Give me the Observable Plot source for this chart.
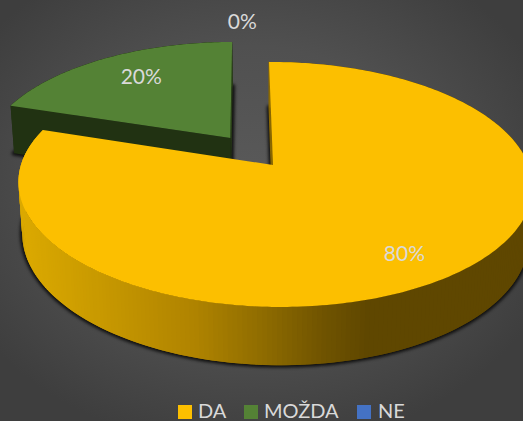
<!DOCTYPE html>
<html><head><meta charset="utf-8">
<style>
html,body{margin:0;padding:0;width:523px;height:421px;overflow:hidden;
 background:radial-gradient(ellipse 62% 62% at 48% 45%,#5a5a5a 0%,#505050 55%,#3e3e3e 100%);}
#legend{position:relative;height:26px;width:523px;font:20px Lato,sans-serif;color:#d9d9d9;}
#legend span{position:absolute;top:2px;line-height:26px;white-space:nowrap}
#legend i{position:absolute;top:10px;width:14px;height:14px;display:block}
svg{display:block}
</style>
<script src="https://cdn.jsdelivr.net/npm/d3@7"></script>
<script src="https://cdn.jsdelivr.net/npm/@observablehq/plot@0.6"></script>
</head><body><div id="chart"></div><div id="legend"></div>
<script>
const categories = ["DA","MOŽDA","NE"];
const shares = [80,20,0];
const colors = ["#fcbf00","#548235","#4472c4"];
const labels = ["80%","20%","0%"];

// perspective of the disc
const cx=273, cy=165, R=253.8, S=119.4, K=0.159, J=-0.007, A=-4.6, D=52, M=0.015;
const W=523, H=395;
function proj(X,Y,d=0){const w=1+K*Y+J*X+M*d;return [cx+(R*X+A*Y)/w, cy-(S*Y-D*d)/w];}
const TAU=Math.PI*2;
const total=d3.sum(shares);
let acc=0;
const slices=shares.map((v,i)=>{const a0=acc/total*TAU;acc+=v;const a1=acc/total*TAU;return {i,a0,a1,v};});
// exploded offset in disc units
const explode=[0,0.29,0];
function arcPts(s){const n=Math.max(2,Math.ceil((s.a1-s.a0)*60));const m=(s.a0+s.a1)/2,e=explode[s.i];
  const ox=e*Math.sin(m),oy=e*Math.cos(m);
  return d3.range(n+1).map(k=>{const t=s.a0+(s.a1-s.a0)*k/n;return {X:ox+Math.sin(t),Y:oy+Math.cos(t),ox,oy};});}
function fan(s,d){return arcPts(s).map(p=>{const [x1,y1]=proj(p.X,p.Y,d),[x2,y2]=proj(p.ox,p.oy,d);return {x1,y1,x2,y2};});}
const wallRamp=d3.scaleLinear().domain([20,100,200,270,330,375]).range(["#dcaa00","#c99a00","#b08400","#8f6c00","#705400","#5f4700"]).clamp(true);
// wall pieces, each drawn over the next one's start so no seams show; drawn from the end back
function wall(s){const pts=arcPts(s);const out=[];
  for(let k=pts.length-2;k>=0;k--){const end=Math.min(pts.length-1,k+2);
    for(const p of [pts[k],pts[end]]){const [x1,y1]=proj(p.X,p.Y,0),[x2,y2]=proj(p.X,p.Y,1);
    const mid=proj(pts[k].X,pts[k].Y,0)[0];out.push({x1,y1,x2,y2,seg:k,c:s.i==0?wallRamp(mid):"#213212"});}}
  return out;}
function cut(s,t){const e=explode[s.i],m=(s.a0+s.a1)/2,ox=e*Math.sin(m),oy=e*Math.cos(m);
  const a=[ox,oy],b=[ox+Math.sin(t),oy+Math.cos(t)];
  return [a,b].map(([X,Y])=>{const [x1,y1]=proj(X,Y,0),[x2,y2]=proj(X,Y,1);return {x1,y1,x2,y2};});}
const yellow=slices[0],green=slices[1];
const area=(data,opt)=>Plot.area(data,{x1:"x1",y1:"y1",x2:"x2",y2:"y2",curve:"linear",...opt});
// label positions in disc coordinates
const labelDisc=[[0.448,-0.66],[-0.578,0.8456],[-0.125,1.479]];
const labelRows=labels.map((t,i)=>{const [x,y]=proj(...labelDisc[i]);return {t,x,y};});
const shadow={fill:"#0c0c0c",stroke:"#0c0c0c",strokeWidth:5,imageFilter:"blur(1.6px)",fillOpacity:0.95,strokeOpacity:0.85};
const chart=Plot.plot({width:W,height:H,margin:0,
  x:{domain:[0,W],range:[0,W],axis:null},y:{domain:[0,H],range:[0,H],axis:null},
  style:{background:"transparent",overflow:"hidden"},
  marks:[
    area(fan(green,1),shadow),
    area(fan(yellow,1),shadow),
    area(wall(green),{fill:"c",z:"seg"}),
    area(cut(green,green.a1),{fill:"#2a3f18"}),
    area(cut(green,green.a0),{fill:"#213212"}),
    area(fan(green,0),{fill:colors[1]}),
    area(cut(yellow,yellow.a0),{fill:"#8a6700",stroke:"#8a6700",strokeWidth:1.2}),
    area(wall(yellow),{fill:"c",z:"seg"}),
    area(fan(yellow,0),{fill:colors[0]}),
    Plot.text(labelRows,{x:"x",y:"y",text:"t",fill:"#d9d9d9",fontSize:21,fontFamily:"Lato"})
  ]});
document.getElementById("chart").append(chart);
const lg=document.getElementById("legend");
const lx=[[178,198],[244,264],[357,378]];
categories.forEach((c,i)=>{
  const sw=document.createElement("i");sw.style.left=lx[i][0]+"px";sw.style.background=colors[i];lg.append(sw);
  const t=document.createElement("span");t.textContent=c;t.style.left=lx[i][1]+"px";lg.append(t);
});
</script></body></html>
